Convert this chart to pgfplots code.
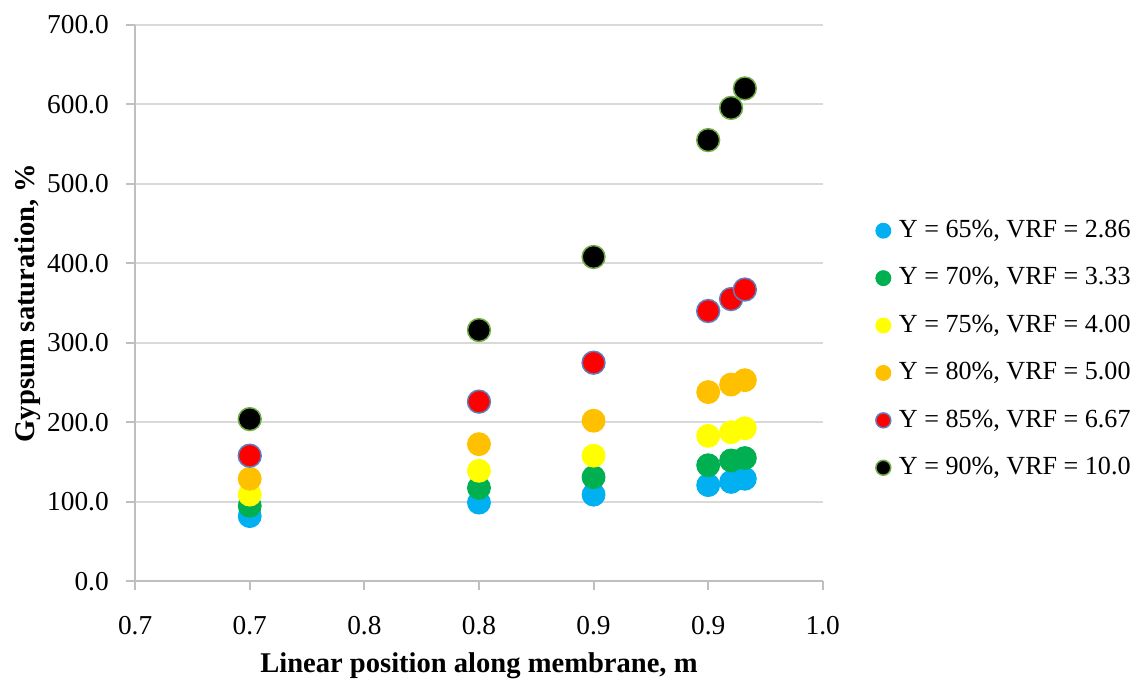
\documentclass[border=0pt]{standalone}
\usepackage{fontspec}
\setmainfont{Liberation Serif}
\usepackage{pgfplots}
\pgfplotsset{compat=1.18}
\definecolor{cblue}{HTML}{00B0F0}
\definecolor{cgreen}{HTML}{00B050}
\definecolor{cyellow}{HTML}{FFFF00}
\definecolor{corange}{HTML}{FFC000}
\definecolor{cred}{HTML}{FF0000}
\definecolor{credge}{HTML}{5B7FC0}
\definecolor{cblackedge}{HTML}{70AD47}
\definecolor{axgray}{HTML}{BFBFBF}
\definecolor{gridgray}{HTML}{D9D9D9}
\begin{document}
\begin{tikzpicture}
\begin{axis}[
  scale only axis,
  width=276.8pt, height=224pt,
  xmin=0.65, xmax=0.95, ymin=0, ymax=700,
  xtick={0.65,0.70,0.75,0.80,0.85,0.90,0.95},
  xticklabels={0.7,0.7,0.8,0.8,0.9,0.9,1.0},
  ytick={0,100,200,300,400,500,600,700},
  yticklabel={\pgfmathprintnumber[fixed,fixed zerofill,precision=1]{\tick}},
  /pgf/number format/assume math mode=true,
  axis x line*=bottom, axis y line*=left,
  axis line style={draw=axgray, line width=0.8pt},
  tick align=outside, major tick length=3.6pt,
  tick style={draw=axgray, line width=0.8pt},
  ymajorgrids, grid style={draw=gridgray, line width=0.8pt},
  tick label style={font=\fontsize{11}{12}\selectfont},
  xticklabel style={yshift=-7pt},
  yticklabel style={xshift=-3.5pt},
  every axis y label/.style={at={(axis description cs:-0.156,0.5)},rotate=90,anchor=center},
  every axis x label/.style={at={(axis description cs:0.5,-0.152)},anchor=center},
  xlabel={\fontsize{11.5}{12}\selectfont\textbf{Linear position along membrane, m}},
  ylabel={\fontsize{11.5}{12}\selectfont\textbf{Gypsum saturation, \%}},
  legend style={at={(1.266,0.417)}, anchor=center, draw=none, fill=none,
    font=\fontsize{10.5}{12}\selectfont, row sep=6.6pt,
    /tikz/every odd column/.append style={column sep=1.3pt}},
  legend cell align=left,
  legend image code/.code={\draw[mark size=3pt] plot coordinates {(0.1cm,0cm)};},
  mark size=4.6pt,
]
\addplot[only marks, mark=*, mark options={fill=cblue, draw=cblue}] coordinates {
 (0.70,82) (0.80,99) (0.85,109) (0.90,121) (0.91,125) (0.916,129)};
\addlegendentry{Y = 65\%, VRF = 2.86}
\addplot[only marks, mark=*, mark options={fill=cgreen, draw=cgreen}] coordinates {
 (0.70,95) (0.80,117.5) (0.85,131) (0.90,146) (0.91,152) (0.916,155)};
\addlegendentry{Y = 70\%, VRF = 3.33}
\addplot[only marks, mark=*, mark options={fill=cyellow, draw=cyellow}] coordinates {
 (0.70,109) (0.80,139) (0.85,158) (0.90,183) (0.91,187.5) (0.916,192.5)};
\addlegendentry{Y = 75\%, VRF = 4.00}
\addplot[only marks, mark=*, mark options={fill=corange, draw=corange}] coordinates {
 (0.70,129) (0.80,172.5) (0.85,202) (0.90,238) (0.91,247.5) (0.916,253)};
\addlegendentry{Y = 80\%, VRF = 5.00}
\addplot[only marks, mark=*, mark options={fill=cred, draw=credge, line width=0.6pt}] coordinates {
 (0.70,158) (0.80,226) (0.85,275) (0.90,340) (0.91,355) (0.916,367)};
\addlegendentry{Y = 85\%, VRF = 6.67}
\addplot[only marks, mark=*, mark options={fill=black, draw=cblackedge, line width=0.6pt}] coordinates {
 (0.70,204) (0.80,316) (0.85,408) (0.90,555) (0.91,595.5) (0.916,620)};
\addlegendentry{Y = 90\%, VRF = 10.0}
\coordinate (bbl) at (rel axis cs:-0.1965,-0.1732);
\coordinate (btr) at (rel axis cs:1.4552,1.0446);
\end{axis}
\path (bbl) rectangle (btr);
\end{tikzpicture}
\end{document}
